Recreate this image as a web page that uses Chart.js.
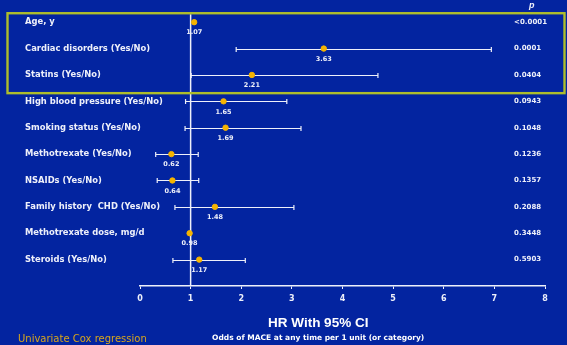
<!DOCTYPE html>
<html>
<head>
<meta charset="utf-8">
<script src="https://cdn.jsdelivr.net/npm/chart.js@4"></script>
<style>
  html, body { margin: 0; padding: 0; background: #0324a0; }
  #wrap { width: 567px; height: 345px; position: relative; }
</style>
</head>
<body>
<div id="wrap"><canvas id="c" width="567" height="345"></canvas></div>
<script>
// Univariate Cox regression: hazard ratios with 95% confidence intervals
const factors = [
  'Age, y',
  'Cardiac disorders (Yes/No)',
  'Statins (Yes/No)',
  'High blood pressure (Yes/No)',
  'Smoking status (Yes/No)',
  'Methotrexate (Yes/No)',
  'NSAIDs (Yes/No)',
  'Family history  CHD (Yes/No)',
  'Methotrexate dose, mg/d',
  'Steroids (Yes/No)'
];
const hazardRatio = [1.07, 3.63, 2.21, 1.65, 1.69, 0.62, 0.64, 1.48, 0.98, 1.17];
const ciLower     = [null, 1.90, 1.01, 0.90, 0.89, 0.31, 0.34, 0.69, null, 0.65];
const ciUpper     = [null, 6.94, 4.70, 2.90, 3.18, 1.15, 1.16, 3.04, null, 2.08];
const pValues = ['<0.0001', '0.0001', '0.0404', '0.0943', '0.1048', '0.1236', '0.1357', '0.2088', '0.3448', '0.5903'];
const xTicks = [0, 1, 2, 3, 4, 5, 6, 7, 8];

const WHITE = '#eef0fa';
const DOT = '#f6b400';
const FONT = '"Liberation Sans", Arial, sans-serif';
const SMALL = '"DejaVu Sans", Verdana, sans-serif';

// Row labels, confidence-interval whiskers, value labels, p-value column, highlight box and footer texts
const forestPlugin = {
  id: 'forest',
  beforeDatasetsDraw(chart) {
    const { ctx, scales: { x, y } } = chart;
    ctx.save();
    ctx.strokeStyle = WHITE;
    ctx.lineWidth = 1.2;
    factors.forEach((_, i) => {
      if (ciLower[i] == null) return;
      const yy = Math.round(y.getPixelForValue(i)) + 0.5;
      const x0 = x.getPixelForValue(ciLower[i]);
      const x1 = x.getPixelForValue(ciUpper[i]);
      ctx.beginPath();
      ctx.moveTo(x0, yy); ctx.lineTo(x1, yy);
      ctx.moveTo(x0, yy - 2.5); ctx.lineTo(x0, yy + 2.5);
      ctx.moveTo(x1, yy - 2.5); ctx.lineTo(x1, yy + 2.5);
      ctx.stroke();
    });
    ctx.restore();
  },
  afterDatasetsDraw(chart) {
    const { ctx, width, scales: { x, y } } = chart;
    ctx.save();
    ctx.textBaseline = 'middle';
    // factor names
    ctx.fillStyle = WHITE;
    ctx.font = 'bold 8.4px ' + SMALL;
    ctx.textAlign = 'left';
    factors.forEach((f, i) => ctx.fillText(f, y.left, y.getPixelForValue(i)));
    // value under each marker
    ctx.font = 'bold 6.5px ' + SMALL;
    ctx.textAlign = 'center';
    hazardRatio.forEach((v, i) => {
      ctx.fillText(v.toFixed(2), x.getPixelForValue(v), y.getPixelForValue(i) + 10.5);
    });
    // p-value column
    ctx.font = 'bold 7px ' + SMALL;
    ctx.textAlign = 'left';
    const px = x.getPixelForValue(7.39);
    pValues.forEach((p, i) => ctx.fillText(p, px, y.getPixelForValue(i)));
    ctx.font = 'italic bold 9px ' + FONT;
    ctx.textAlign = 'center';
    ctx.fillText('p', x.getPixelForValue(7.74), y.getPixelForValue(-0.64));
    // highlight box around the significant factors
    const top = y.getPixelForValue(-0.34);
    const bottom = y.getPixelForValue(2.69);
    ctx.strokeStyle = '#aebd2c';
    ctx.lineWidth = 2.4;
    ctx.strokeRect(7.5, top, width - 10, bottom - top);
    // footer
    ctx.fillStyle = '#ffffff';
    ctx.textAlign = 'center';
    ctx.font = 'bold 13.5px ' + FONT;
    ctx.fillText('HR With 95% CI', x.getPixelForValue(3.52), 323);
    ctx.font = 'bold 7.5px ' + SMALL;
    ctx.fillText('Odds of MACE at any time per 1 unit (or category)', x.getPixelForValue(3.52), 338);
    ctx.fillStyle = '#d7a51c';
    ctx.textAlign = 'left';
    ctx.font = '10px ' + SMALL;
    ctx.fillText('Univariate Cox regression', 18, 339);
    ctx.restore();
  }
};

new Chart(document.getElementById('c'), {
  type: 'scatter',
  data: {
    datasets: [
      {
        // reference line at HR = 1
        type: 'line',
        data: [{ x: 1, y: -0.3 }, { x: 1, y: 10.05 }],
        borderColor: WHITE,
        borderWidth: 1.5,
        pointRadius: 0,
        order: 2
      },
      {
        data: hazardRatio.map((v, i) => ({ x: v, y: i })),
        backgroundColor: DOT,
        borderColor: DOT,
        pointRadius: 2.7,
        pointStyle: 'circle',
        order: 1
      }
    ]
  },
  options: {
    responsive: false,
    animation: false,
    layout: { padding: { left: 25, right: 22, top: 9, bottom: 0 } },
    plugins: { legend: { display: false }, tooltip: { enabled: false } },
    scales: {
      x: {
        type: 'linear',
        min: 0, max: 8,
        afterBuildTicks: s => { s.ticks = xTicks.map(v => ({ value: v })); },
        afterFit: s => { s.height = 59; },
        grid: { drawOnChartArea: false, drawTicks: true, tickLength: 3, color: WHITE, lineWidth: 1 },
        border: { display: true, color: WHITE, width: 1.5 },
        ticks: { color: WHITE, font: { family: SMALL, size: 8, weight: 'bold' }, padding: 5 }
      },
      y: {
        type: 'linear',
        reverse: true,
        min: -0.5, max: 10,
        afterBuildTicks: s => { s.ticks = factors.map((_, i) => ({ value: i })); },
        afterFit: s => { s.width = 115; },
        grid: { display: false },
        border: { display: false },
        ticks: { display: false }
      }
    }
  },
  plugins: [forestPlugin]
});
</script>
</body>
</html>
